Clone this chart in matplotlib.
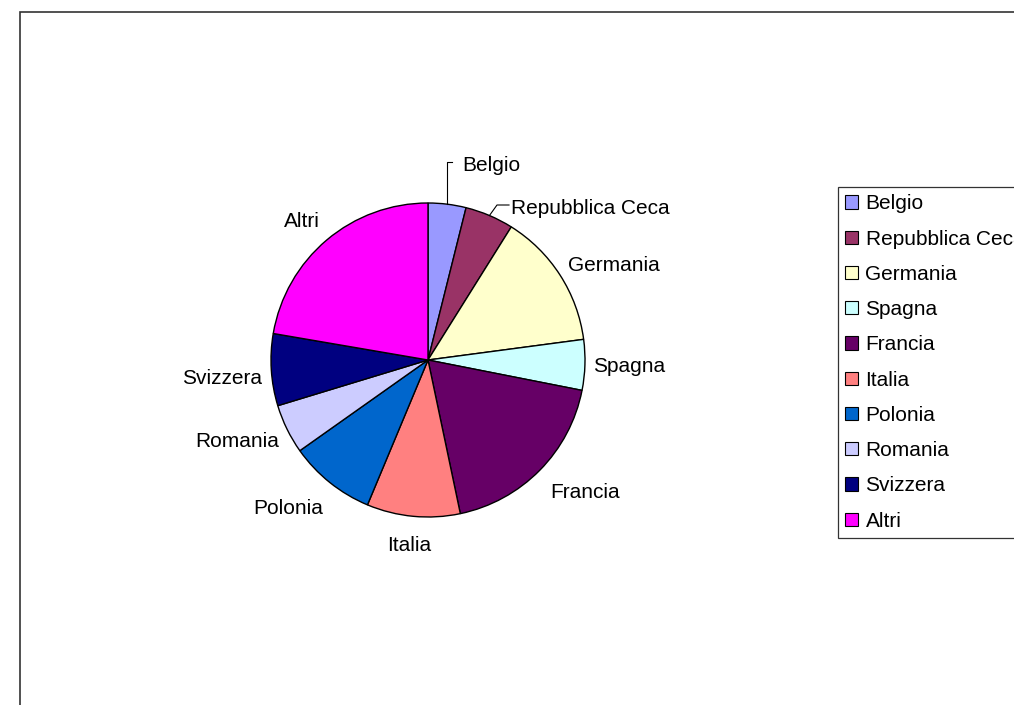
import matplotlib
matplotlib.use("Agg")
import matplotlib.pyplot as plt
from matplotlib.patches import Rectangle, Patch
import numpy as np

plt.rcParams['font.family'] = ['Liberation Sans', 'DejaVu Sans']

# Quote per paese (%)
paesi = ["Belgio", "Repubblica Ceca", "Germania", "Spagna", "Francia",
         "Italia", "Polonia", "Romania", "Svizzera", "Altri"]
quote = [3.9, 5.0, 14.0, 5.2, 18.6, 9.6, 8.9, 5.1, 7.4, 22.3]
colori = ["#9999FF", "#993366", "#FFFFCC", "#CCFFFF", "#660066",
          "#FF8080", "#0066CC", "#CCCCFF", "#000080", "#FF00FF"]

W, H = 1014, 705
fig = plt.figure(figsize=(W / 100, H / 100), dpi=100)

# cornice del grafico
fig.patches.append(Rectangle((20 / W, -0.05), 1.1, 1 - 12 / H + 0.05,
                             transform=fig.transFigure, fill=False,
                             edgecolor="#333333", linewidth=1.2))

cx, cy, R = 428, 360, 157
ax = fig.add_axes([(cx - R) / W, (H - cy - R) / H, 2 * R / W, 2 * R / H])

wedges, _ = ax.pie(quote, colors=colori, startangle=90, counterclock=False,
                   radius=1, wedgeprops=dict(edgecolor="black", linewidth=1.0))
ax.set_xlim(-1, 1)
ax.set_ylim(-1, 1)
ax.axis("off")


def px(x, y):
    return (x - cx) / R, (cy - y) / R


# posizione (baseline) ed allineamento delle etichette
etichette = {
    "Belgio": ((462, 171), "left"),
    "Repubblica Ceca": ((511, 214), "left"),
    "Germania": ((568, 271), "left"),
    "Spagna": ((593, 372), "left"),
    "Francia": ((550, 498), "left"),
    "Italia": ((409, 551), "center"),
    "Polonia": ((323, 514), "right"),
    "Romania": ((279, 447), "right"),
    "Svizzera": ((262, 384), "right"),
    "Altri": ((302, 227), "center"),
}
for nome in paesi:
    (x, y), ha = etichette[nome]
    tx, ty = px(x, y)
    ax.text(tx, ty, nome, ha=ha, va="baseline", fontsize=15, color="black",
            clip_on=False)

# linee guida per le fette piccole
tot = sum(quote)
cum = np.cumsum([0] + quote)
gomiti = {"Belgio": [(None, 162), (452, 162)],
          "Repubblica Ceca": [(497, 205), (509, 205)]}
for nome, punti in gomiti.items():
    i = paesi.index(nome)
    mid = (cum[i] + cum[i + 1]) / 2 / tot * 2 * np.pi
    x0, y0 = np.sin(mid), np.cos(mid)
    xs, ys = [x0], [y0]
    for (x, y) in punti:
        gx, gy = px(x if x is not None else cx + x0 * R, y)
        xs.append(gx)
        ys.append(gy)
    ax.plot(xs, ys, color="black", linewidth=0.8, clip_on=False)

handles = [Patch(facecolor=c, edgecolor="black", linewidth=0.8) for c in colori]
leg = fig.legend(handles, paesi, loc="upper left",
                 bbox_to_anchor=(838 / W, 1 - 187 / H), fontsize=15,
                 frameon=True, fancybox=False, edgecolor="black",
                 handlelength=0.62, handleheight=0.6, handletextpad=0.35,
                 labelspacing=0.78, borderpad=0.35, borderaxespad=0)
leg.get_frame().set_linewidth(0.9)

fig.savefig("out.png", dpi=100)
